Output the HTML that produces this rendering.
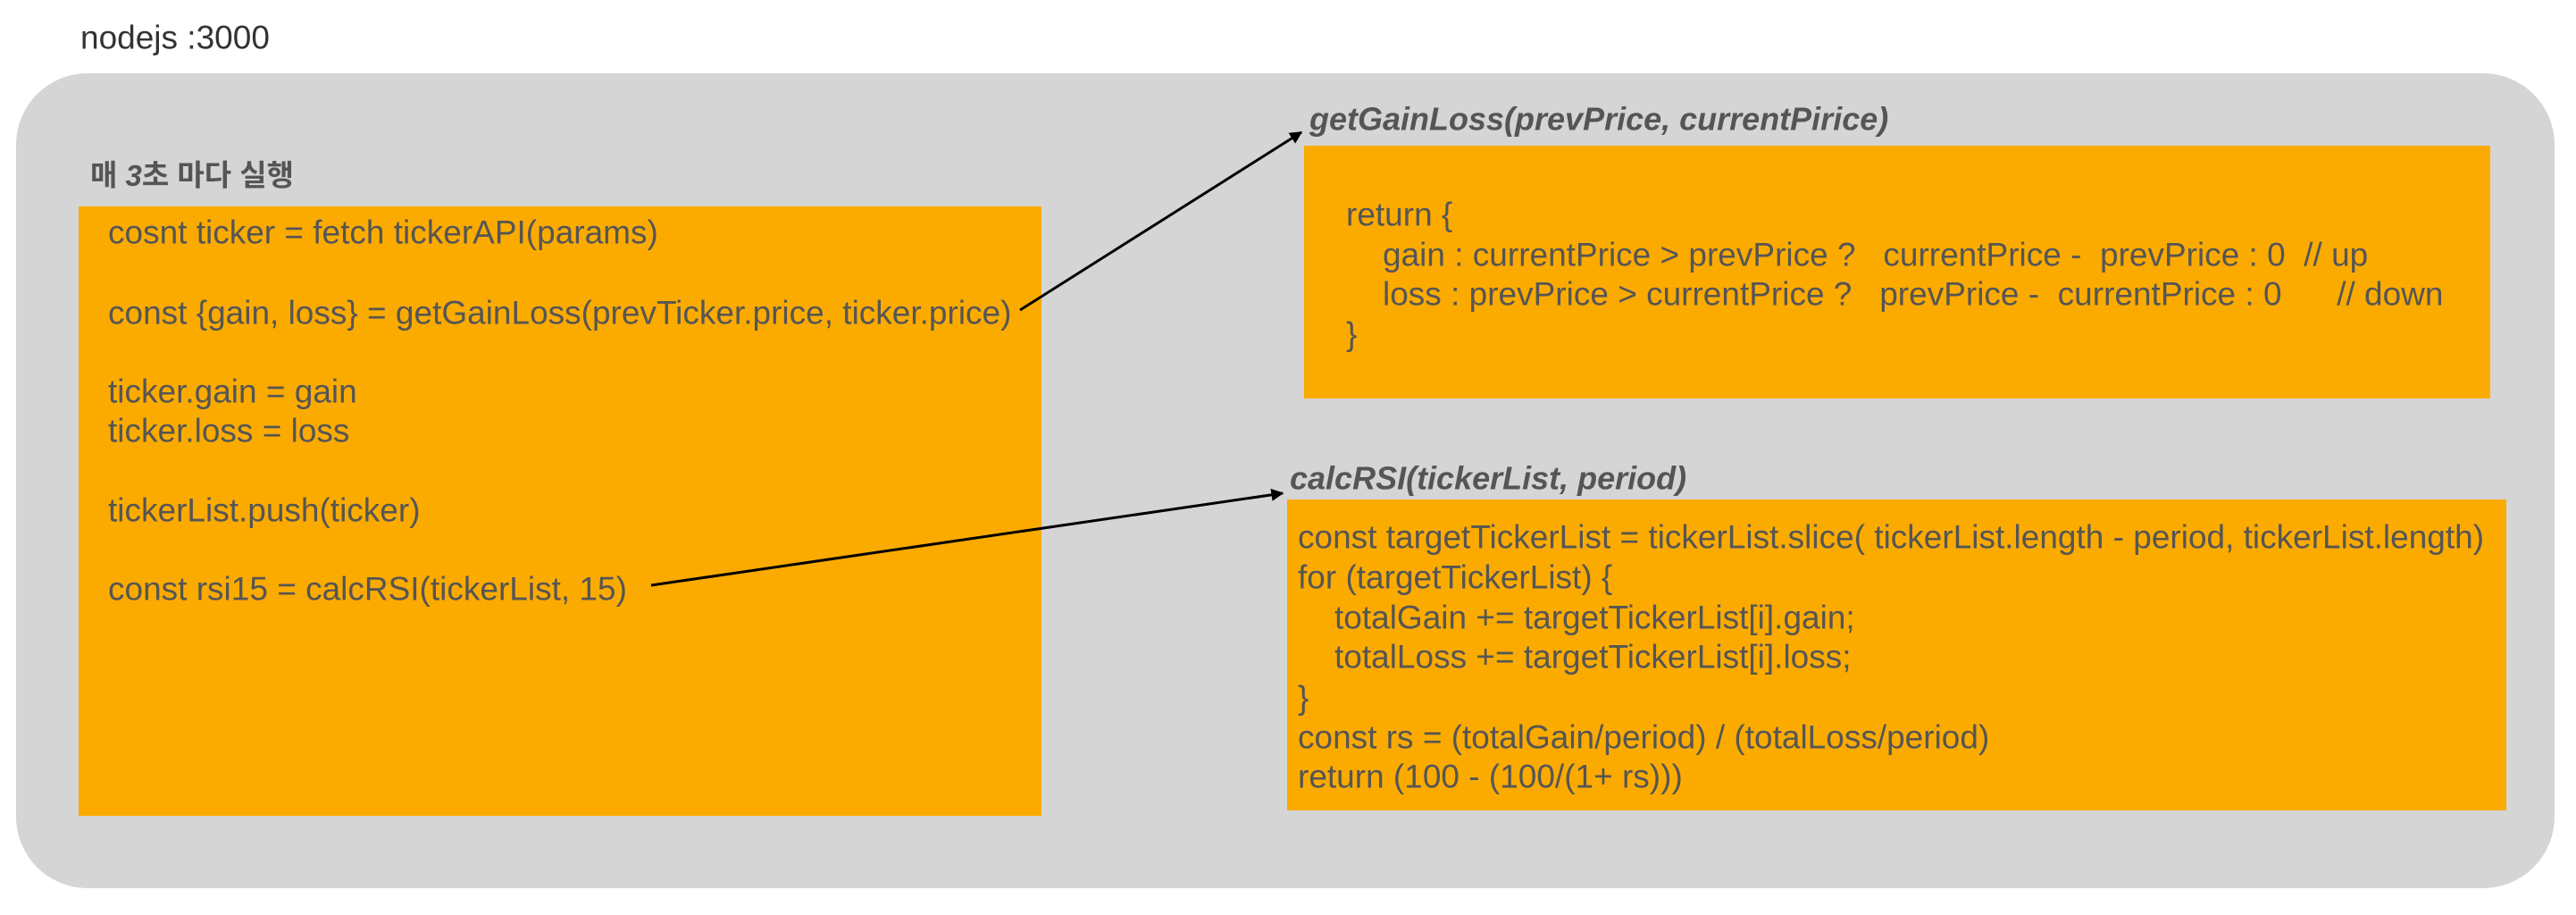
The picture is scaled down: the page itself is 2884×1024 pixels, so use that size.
<!DOCTYPE html>
<html><head><meta charset="utf-8"><style>
html,body{margin:0;padding:0;background:#fff;}
svg{display:block;}
text{font-family:"Liberation Sans","Noto Sans CJK KR",sans-serif;fill:#555;font-size:37px;dominant-baseline:central;}
</style></head><body>
<svg width="2884" height="1024" viewBox="0 0 2884 1024" xmlns="http://www.w3.org/2000/svg">
<defs>
<marker id="a2" viewBox="0 0 10 10" markerWidth="16" markerHeight="14" refX="9" refY="5" orient="auto" markerUnits="userSpaceOnUse"><path d="M0,0 L10,5 L0,10 z" fill="#000"/></marker></defs>
<text x="90" y="42" style="fill:#333">nodejs :3000</text>
<rect x="18" y="82" width="2842" height="912" rx="80" ry="80" fill="#d5d5d5"/>
<text x="101" y="196" style="font-weight:bold;font-size:33px">매 <tspan font-style="italic">3</tspan>초 마다 실행</text>
<rect x="88" y="231" width="1078" height="682" fill="#fbab00"/>
<text x="121" y="260">cosnt ticker = fetch tickerAPI(params)</text>
<text x="121" y="350">const {gain, loss} = getGainLoss(prevTicker.price, ticker.price)</text>
<text x="121" y="438">ticker.gain = gain</text>
<text x="121" y="482">ticker.loss = loss</text>
<text x="121" y="571">tickerList.push(ticker)</text>
<text x="121" y="659">const rsi15 = calcRSI(tickerList, 15)</text>
<text x="1466" y="133" style="font-weight:bold;font-style:italic;font-size:36px">getGainLoss(prevPrice, currentPirice)</text>
<rect x="1460" y="163" width="1328" height="283" fill="#fbab00"/>
<text x="1507" y="240">return {</text>
<text x="1548" y="285" xml:space="preserve">gain : currentPrice &gt; prevPrice ?   currentPrice -  prevPrice : 0  // up</text>
<text x="1548" y="329" xml:space="preserve">loss : prevPrice &gt; currentPrice ?   prevPrice -  currentPrice : 0      // down</text>
<text x="1507" y="374">}</text>
<text x="1444" y="535" style="font-weight:bold;font-style:italic;font-size:36px">calcRSI(tickerList, period)</text>
<rect x="1441" y="559" width="1365" height="348" fill="#fbab00"/>
<text x="1453" y="601">const targetTickerList = tickerList.slice( tickerList.length - period, tickerList.length)</text>
<text x="1453" y="646">for (targetTickerList) {</text>
<text x="1494" y="691">totalGain += targetTickerList[i].gain;</text>
<text x="1494" y="735">totalLoss += targetTickerList[i].loss;</text>
<text x="1453" y="781">}</text>
<text x="1453" y="825">const rs = (totalGain/period) / (totalLoss/period)</text>
<text x="1453" y="869">return (100 - (100/(1+ rs)))</text>
<line x1="1142" y1="347" x2="1457" y2="148" stroke="#000" stroke-width="3" marker-end="url(#a2)"/>
<line x1="729" y1="655" x2="1436" y2="552" stroke="#000" stroke-width="3" marker-end="url(#a2)"/>
</svg>
</body></html>
